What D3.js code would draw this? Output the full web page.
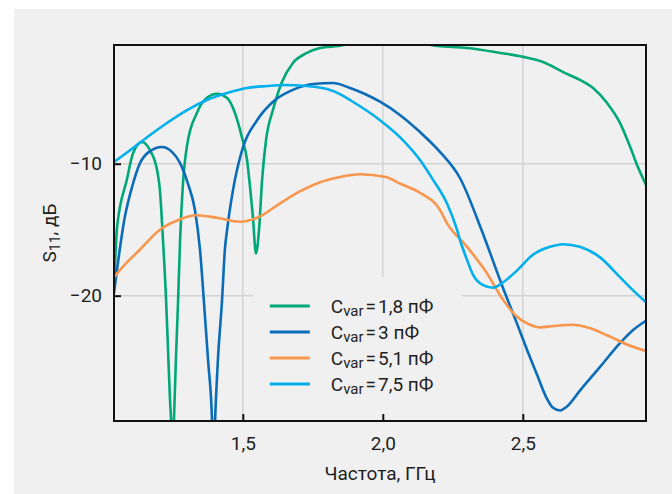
<!DOCTYPE html>
<html>
<head>
<meta charset="utf-8">
<script src="https://cdn.jsdelivr.net/npm/d3@7"></script>
<style>
  body { margin: 0; background: #fff; }
  svg { display: block; }
  text { font-family: Roboto, "Noto Sans", sans-serif; fill: #1e1e1e; }
</style>
</head>
<body>
<svg id="chart"></svg>
<script>
// S11 (dB) against frequency (GHz)
let cvar18 = [
    [1.040, -19.5], [1.051, -14.8], [1.086, -11.2], [1.108, -9.2], [1.140, -8.35],
    [1.169, -9.0], [1.194, -10.5], [1.204, -12.0], [1.215, -15.8], [1.226, -20.3],
    [1.233, -24.1], [1.240, -27.9], [1.244, -29.5], [1.249, -33.0], [1.254, -29.5],
    [1.261, -24.9], [1.269, -20.3], [1.276, -15.8], [1.286, -11.6], [1.301, -8.6],
    [1.336, -6.15], [1.372, -5.0], [1.408, -4.7], [1.443, -5.0], [1.472, -6.15],
    [1.497, -8.0], [1.515, -9.7], [1.526, -11.8], [1.536, -14.0], [1.547, -16.8],
    [1.558, -15.0], [1.569, -11.2], [1.583, -8.2], [1.608, -5.9], [1.640, -3.8],
    [1.679, -2.36], [1.729, -1.6], [1.776, -1.23], [1.840, -1.08], [1.920, -0.8],
    [2.000, -0.7], [2.100, -0.8], [2.197, -1.08], [2.301, -1.23], [2.419, -1.6],
    [2.501, -1.9], [2.572, -2.29], [2.644, -3.05], [2.704, -3.65], [2.751, -4.26],
    [2.801, -5.4], [2.847, -6.9], [2.883, -8.7], [2.911, -10.25], [2.940, -11.6]
];
let cvar3 = [
    [1.040, -19.8], [1.079, -14.0], [1.104, -11.8], [1.133, -9.95], [1.169, -9.04],
    [1.211, -8.73], [1.247, -9.1], [1.276, -9.95], [1.304, -11.5], [1.329, -13.5],
    [1.347, -16.5], [1.365, -21.6], [1.376, -24.9], [1.390, -29.4], [1.395, -33.0],
    [1.401, -29.4], [1.411, -24.9], [1.426, -20.3], [1.436, -16.5], [1.444, -15.0],
    [1.465, -12.0], [1.501, -8.73], [1.551, -6.7], [1.608, -5.3], [1.679, -4.4],
    [1.751, -3.96], [1.822, -3.88], [1.883, -4.26], [1.940, -4.75], [1.990, -5.3],
    [2.061, -6.3], [2.133, -7.6], [2.204, -9.1], [2.276, -11.1], [2.354, -15.1],
    [2.429, -19.4], [2.479, -22.1], [2.515, -24.1], [2.551, -26.0], [2.586, -27.8],
    [2.608, -28.5], [2.633, -28.7], [2.658, -28.4], [2.704, -27.2], [2.776, -25.4],
    [2.847, -23.6], [2.894, -22.6], [2.940, -21.9]
];
let cvar51 = [
    [1.040, -18.6], [1.072, -17.8], [1.133, -16.5], [1.204, -15.0], [1.265, -14.3],
    [1.336, -13.9], [1.408, -14.1], [1.490, -14.4], [1.561, -14.0], [1.633, -13.0],
    [1.704, -12.1], [1.776, -11.4], [1.847, -11.0], [1.919, -10.8], [2.011, -11.0],
    [2.061, -11.5], [2.133, -12.2], [2.204, -13.5], [2.229, -14.5], [2.301, -16.3],
    [2.372, -18.3], [2.429, -20.3], [2.479, -21.6], [2.526, -22.2], [2.561, -22.4],
    [2.608, -22.3], [2.679, -22.2], [2.729, -22.4], [2.801, -23.0], [2.872, -23.7],
    [2.940, -24.2]
];
let cvar75 = [
    [1.040, -9.87], [1.108, -8.81], [1.169, -7.82], [1.229, -6.91], [1.301, -5.93],
    [1.372, -5.17], [1.444, -4.64], [1.515, -4.26], [1.586, -4.11], [1.644, -4.03],
    [1.729, -4.11], [1.801, -4.34], [1.847, -4.72], [1.883, -5.17], [1.990, -6.7],
    [2.061, -7.98], [2.133, -9.72], [2.179, -11.2], [2.229, -13.0], [2.265, -15.0],
    [2.276, -15.8], [2.301, -17.3], [2.322, -18.4], [2.358, -19.2], [2.394, -19.4],
    [2.429, -19.0], [2.479, -18.1], [2.536, -16.9], [2.597, -16.3], [2.644, -16.1],
    [2.704, -16.3], [2.776, -17.1], [2.847, -18.6], [2.894, -19.6], [2.940, -20.5]
];

let seriesValues = [cvar18, cvar3, cvar51, cvar75];
let seriesLabels = ["1,8 пФ", "3 пФ", "5,1 пФ", "7,5 пФ"];
let seriesColors = ["#00a777", "#0a6cb8", "#f7964c", "#00afec"];

let xTicks = [1.5, 2.0, 2.5];
let xTickLabels = ["1,5", "2,0", "2,5"];
let yTicks = [-10, -20];
let yTickLabels = ["\u221210", "\u221220"];

let margin = {top: 45, right: 26, bottom: 73, left: 114};
let width = 672 - margin.left - margin.right;
let height = 494 - margin.top - margin.bottom;

let root = d3.select("#chart")
    .attr("width", 672)
    .attr("height", 494);

// grey card behind everything
root.append("rect")
    .attr("x", 14).attr("y", 9)
    .attr("width", 672 - 14).attr("height", 494 - 9)
    .attr("fill", "#f0f0f0");

let svg = root.append("g")
    .attr("transform", "translate(" + margin.left + "," + margin.top + ")");

let x = d3.scaleLinear().domain([1.04, 2.94]).range([0, width]);
let y = d3.scaleLinear().domain([-29.5, -1]).range([height, 0]);

// grid
svg.append("g")
    .selectAll("line.vx")
    .data(xTicks)
    .enter().append("line")
    .attr("x1", d => x(d)).attr("x2", d => x(d))
    .attr("y1", 0).attr("y2", height)
    .attr("stroke", "#d3d3d3").attr("stroke-width", 1.5);
svg.append("g")
    .selectAll("line.hy")
    .data(yTicks)
    .enter().append("line")
    .attr("x1", 0).attr("x2", width)
    .attr("y1", d => y(d)).attr("y2", d => y(d))
    .attr("stroke", "#d3d3d3").attr("stroke-width", 1.5);

// legend panel hides the grid under it
let legendBox = {x: x(1.5) + 10, y: 232, w: 209, h: height - 232};
svg.append("rect")
    .attr("x", legendBox.x).attr("y", legendBox.y)
    .attr("width", legendBox.w).attr("height", legendBox.h)
    .attr("fill", "#f0f0f0");

// curves
svg.append("clipPath").attr("id", "clip")
    .append("rect").attr("width", width).attr("height", height);

let line = d3.line()
    .x(d => x(d[0]))
    .y(d => y(d[1]))
    .curve(d3.curveMonotoneX);

svg.append("g")
    .attr("clip-path", "url(#clip)")
    .selectAll("path")
    .data(seriesValues)
    .enter().append("path")
    .attr("d", line)
    .attr("fill", "none")
    .attr("stroke", (d, i) => seriesColors[i])
    .attr("stroke-width", 2.6)
    .attr("stroke-linejoin", "round");

// frame
svg.append("rect")
    .attr("width", width).attr("height", height)
    .attr("fill", "none")
    .attr("stroke", "#111").attr("stroke-width", 2);

// axes: inward ticks, labels with comma decimals
let xAxis = d3.axisBottom(x)
    .tickValues(xTicks)
    .tickSizeInner(-7).tickSizeOuter(0)
    .tickPadding(16)
    .tickFormat((d, i) => xTickLabels[i]);
let gx = svg.append("g")
    .attr("transform", "translate(0," + height + ")")
    .call(xAxis);
gx.select(".domain").remove();
gx.selectAll("line").attr("stroke", "#111").attr("stroke-width", 2);
gx.selectAll("text").attr("font-size", 19).attr("fill", "#1e1e1e");

let yAxis = d3.axisLeft(y)
    .tickValues(yTicks)
    .tickSizeInner(-7).tickSizeOuter(0)
    .tickPadding(12)
    .tickFormat((d, i) => yTickLabels[i]);
let gy = svg.append("g").call(yAxis);
gy.select(".domain").remove();
gy.selectAll("line").attr("stroke", "#111").attr("stroke-width", 2);
gy.selectAll("text").attr("font-size", 19).attr("fill", "#1e1e1e");

// axis titles
svg.append("text")
    .attr("x", width / 2).attr("y", height + 59)
    .attr("text-anchor", "middle")
    .attr("font-size", 19)
    .text("Частота, ГГц");

let yTitle = svg.append("text")
    .attr("transform", "translate(" + (-58) + "," + (height / 2) + ") rotate(-90)")
    .attr("text-anchor", "middle")
    .attr("font-size", 19);
yTitle.append("tspan").text("S");
yTitle.append("tspan").attr("font-size", 14).attr("dy", 4).text("11");
yTitle.append("tspan").attr("dy", -4).text(", дБ");

// legend
let legend = svg.append("g")
    .selectAll("g")
    .data(seriesLabels)
    .enter().append("g")
    .attr("transform", (d, i) => "translate(" + (legendBox.x + 17) + "," + (261 + i * 26) + ")");
legend.append("line")
    .attr("x1", 0).attr("x2", 40)
    .attr("stroke", (d, i) => seriesColors[i])
    .attr("stroke-width", 3);
let lt = legend.append("text")
    .attr("x", 61).attr("y", 7)
    .attr("font-size", 19);
lt.append("tspan").text("C");
lt.append("tspan").attr("font-size", 15).attr("dy", 3).text("var");
lt.append("tspan").attr("dy", -3).attr("dx", 2).text("=");
lt.append("tspan").attr("dx", 2).text(d => d);
</script>
</body>
</html>
